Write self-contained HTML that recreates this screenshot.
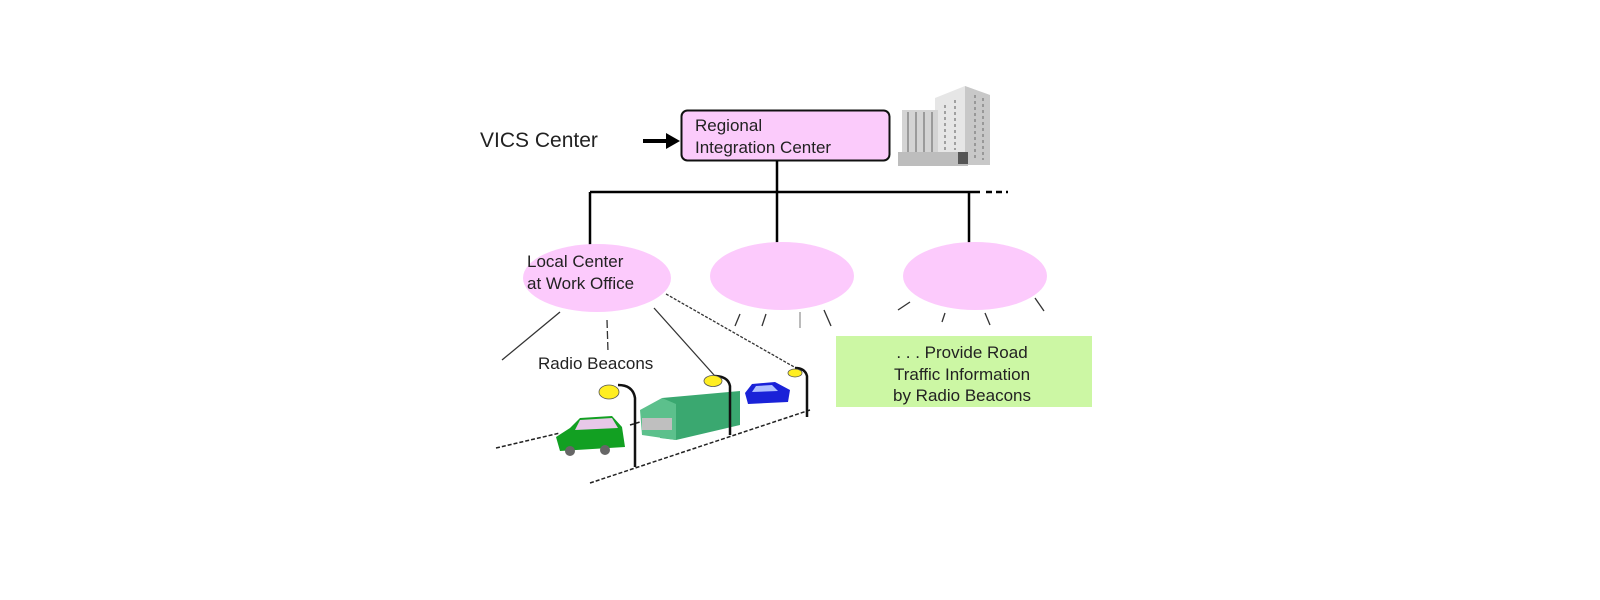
<!DOCTYPE html>
<html><head><meta charset="utf-8"><style>
html,body{margin:0;padding:0;background:#fff;width:1600px;height:600px;overflow:hidden}
svg{display:block}
text{font-family:"Liberation Sans",Arial,sans-serif;fill:#222}
</style></head><body>
<svg width="1600" height="600" viewBox="0 0 1600 600">
<!-- VICS -->
<text x="480" y="147" font-size="21">VICS Center</text>
<line x1="643" y1="141" x2="668" y2="141" stroke="#000" stroke-width="4"/>
<polygon points="666,133 680,141 666,149" fill="#000"/>
<rect x="681.5" y="110.5" width="208" height="50" rx="6" fill="#fbcbfb" stroke="#111" stroke-width="2"/>
<text x="695" y="131" font-size="17">Regional</text>
<text x="695" y="153" font-size="17">Integration Center</text>
<!-- building -->
<g>
<polygon points="935,98 965,86 990,95 990,165 935,165" fill="#e6e6e6"/>
<polygon points="965,86 990,95 990,165 965,165" fill="#c8c8c8"/>
<rect x="902" y="110" width="36" height="45" fill="#d4d4d4"/>
<g stroke="#888" stroke-width="1.5">
<line x1="908" y1="112" x2="908" y2="152"/><line x1="916" y1="112" x2="916" y2="152"/><line x1="924" y1="112" x2="924" y2="152"/><line x1="932" y1="112" x2="932" y2="152"/>
<line x1="975" y1="95" x2="975" y2="160" stroke-dasharray="3 3"/><line x1="983" y1="98" x2="983" y2="160" stroke-dasharray="3 3"/>
<line x1="945" y1="105" x2="945" y2="150" stroke-dasharray="3 3"/><line x1="955" y1="100" x2="955" y2="150" stroke-dasharray="3 3"/>
</g>
<rect x="898" y="152" width="70" height="14" fill="#bdbdbd"/>
<rect x="958" y="152" width="10" height="12" fill="#555"/>
</g>
<!-- tree lines -->
<g stroke="#000" stroke-width="2.5" fill="none">
<line x1="777" y1="161" x2="777" y2="243"/>
<line x1="590" y1="192" x2="980" y2="192"/>
<line x1="590" y1="192" x2="590" y2="256"/>
<line x1="969" y1="192" x2="969" y2="243"/>
<line x1="986" y1="192" x2="1008" y2="192" stroke-dasharray="6 4"/>
</g>
<!-- ellipses -->
<ellipse cx="597" cy="278" rx="74" ry="34" fill="#fccafc"/>
<ellipse cx="782" cy="276" rx="72" ry="34" fill="#fccafc"/>
<ellipse cx="975" cy="276" rx="72" ry="34" fill="#fccafc"/>
<text x="527" y="267" font-size="17">Local Center</text>
<text x="527" y="289" font-size="17">at Work Office</text>
<!-- beams -->
<g stroke="#333" stroke-width="1.3" fill="none">
<line x1="560" y1="312" x2="502" y2="360"/>
<line x1="607" y1="320" x2="608" y2="352" stroke-dasharray="8 3"/>
<line x1="654" y1="308" x2="714" y2="375"/>
<line x1="666" y1="294" x2="803" y2="372" stroke-dasharray="3 1.5"/>
<line x1="740" y1="314" x2="735" y2="326"/>
<line x1="766" y1="314" x2="762" y2="326"/>
<line x1="824" y1="310" x2="831" y2="326"/>
<line x1="910" y1="302" x2="898" y2="310"/>
<line x1="945" y1="313" x2="942" y2="322"/>
<line x1="985" y1="313" x2="990" y2="325"/>
<line x1="1035" y1="298" x2="1044" y2="311"/>
</g>
<line x1="800" y1="312" x2="800" y2="328" stroke="#bbb" stroke-width="2"/>
<text x="538" y="369" font-size="17">Radio Beacons</text>
<!-- green box -->
<rect x="836" y="336" width="256" height="71" fill="#ccf7a4"/>
<text x="962" y="358" font-size="17" text-anchor="middle">. . . Provide Road</text>
<text x="962" y="380" font-size="17" text-anchor="middle">Traffic Information</text>
<text x="962" y="401" font-size="17" text-anchor="middle">by Radio Beacons</text>
<!-- road -->
<g stroke="#222" stroke-width="1.5" fill="none" stroke-dasharray="4 2">
<line x1="496" y1="448" x2="560" y2="433"/>
<line x1="590" y1="483" x2="810" y2="410"/>
<line x1="630" y1="425" x2="640" y2="422"/>
</g>
<!-- cars -->
<g>
<polygon points="556,437 570,428 580,418 612,416 622,427 625,447 560,451" fill="#12a022"/>
<polygon points="580,420 612,418 618,428 575,430" fill="#e8c8e8"/>
<circle cx="570" cy="451" r="5" fill="#666"/><circle cx="605" cy="450" r="5" fill="#666"/>
<polygon points="662,398 740,391 740,425 676,440 660,438" fill="#3aa870"/>
<polygon points="640,410 662,398 676,404 676,440 642,435" fill="#5cc08c"/>
<rect x="642" y="418" width="30" height="12" fill="#bfbfbf"/>
<polygon points="745,393 752,384 775,382 790,390 788,402 748,404" fill="#1a22d8"/>
<polygon points="756,386 772,385 778,391 752,392" fill="#b0c0ff"/>
</g>
<!-- lamps -->
<g stroke="#111" stroke-width="2.5" fill="none">
<path d="M635 467 L635 398 Q633 385 618 385"/>
<path d="M730 435 L730 386 Q728 376 714 376"/>
<path d="M807 417 L807 376 Q805 368 795 368"/>
</g>
<ellipse cx="609" cy="392" rx="10" ry="7" fill="#ffee22" stroke="#555" stroke-width="0.8"/>
<ellipse cx="713" cy="381" rx="9" ry="5.5" fill="#ffee22" stroke="#555" stroke-width="0.8"/>
<ellipse cx="795" cy="373" rx="7" ry="4" fill="#ffee22" stroke="#555" stroke-width="0.8"/>
</svg>
</body></html>
